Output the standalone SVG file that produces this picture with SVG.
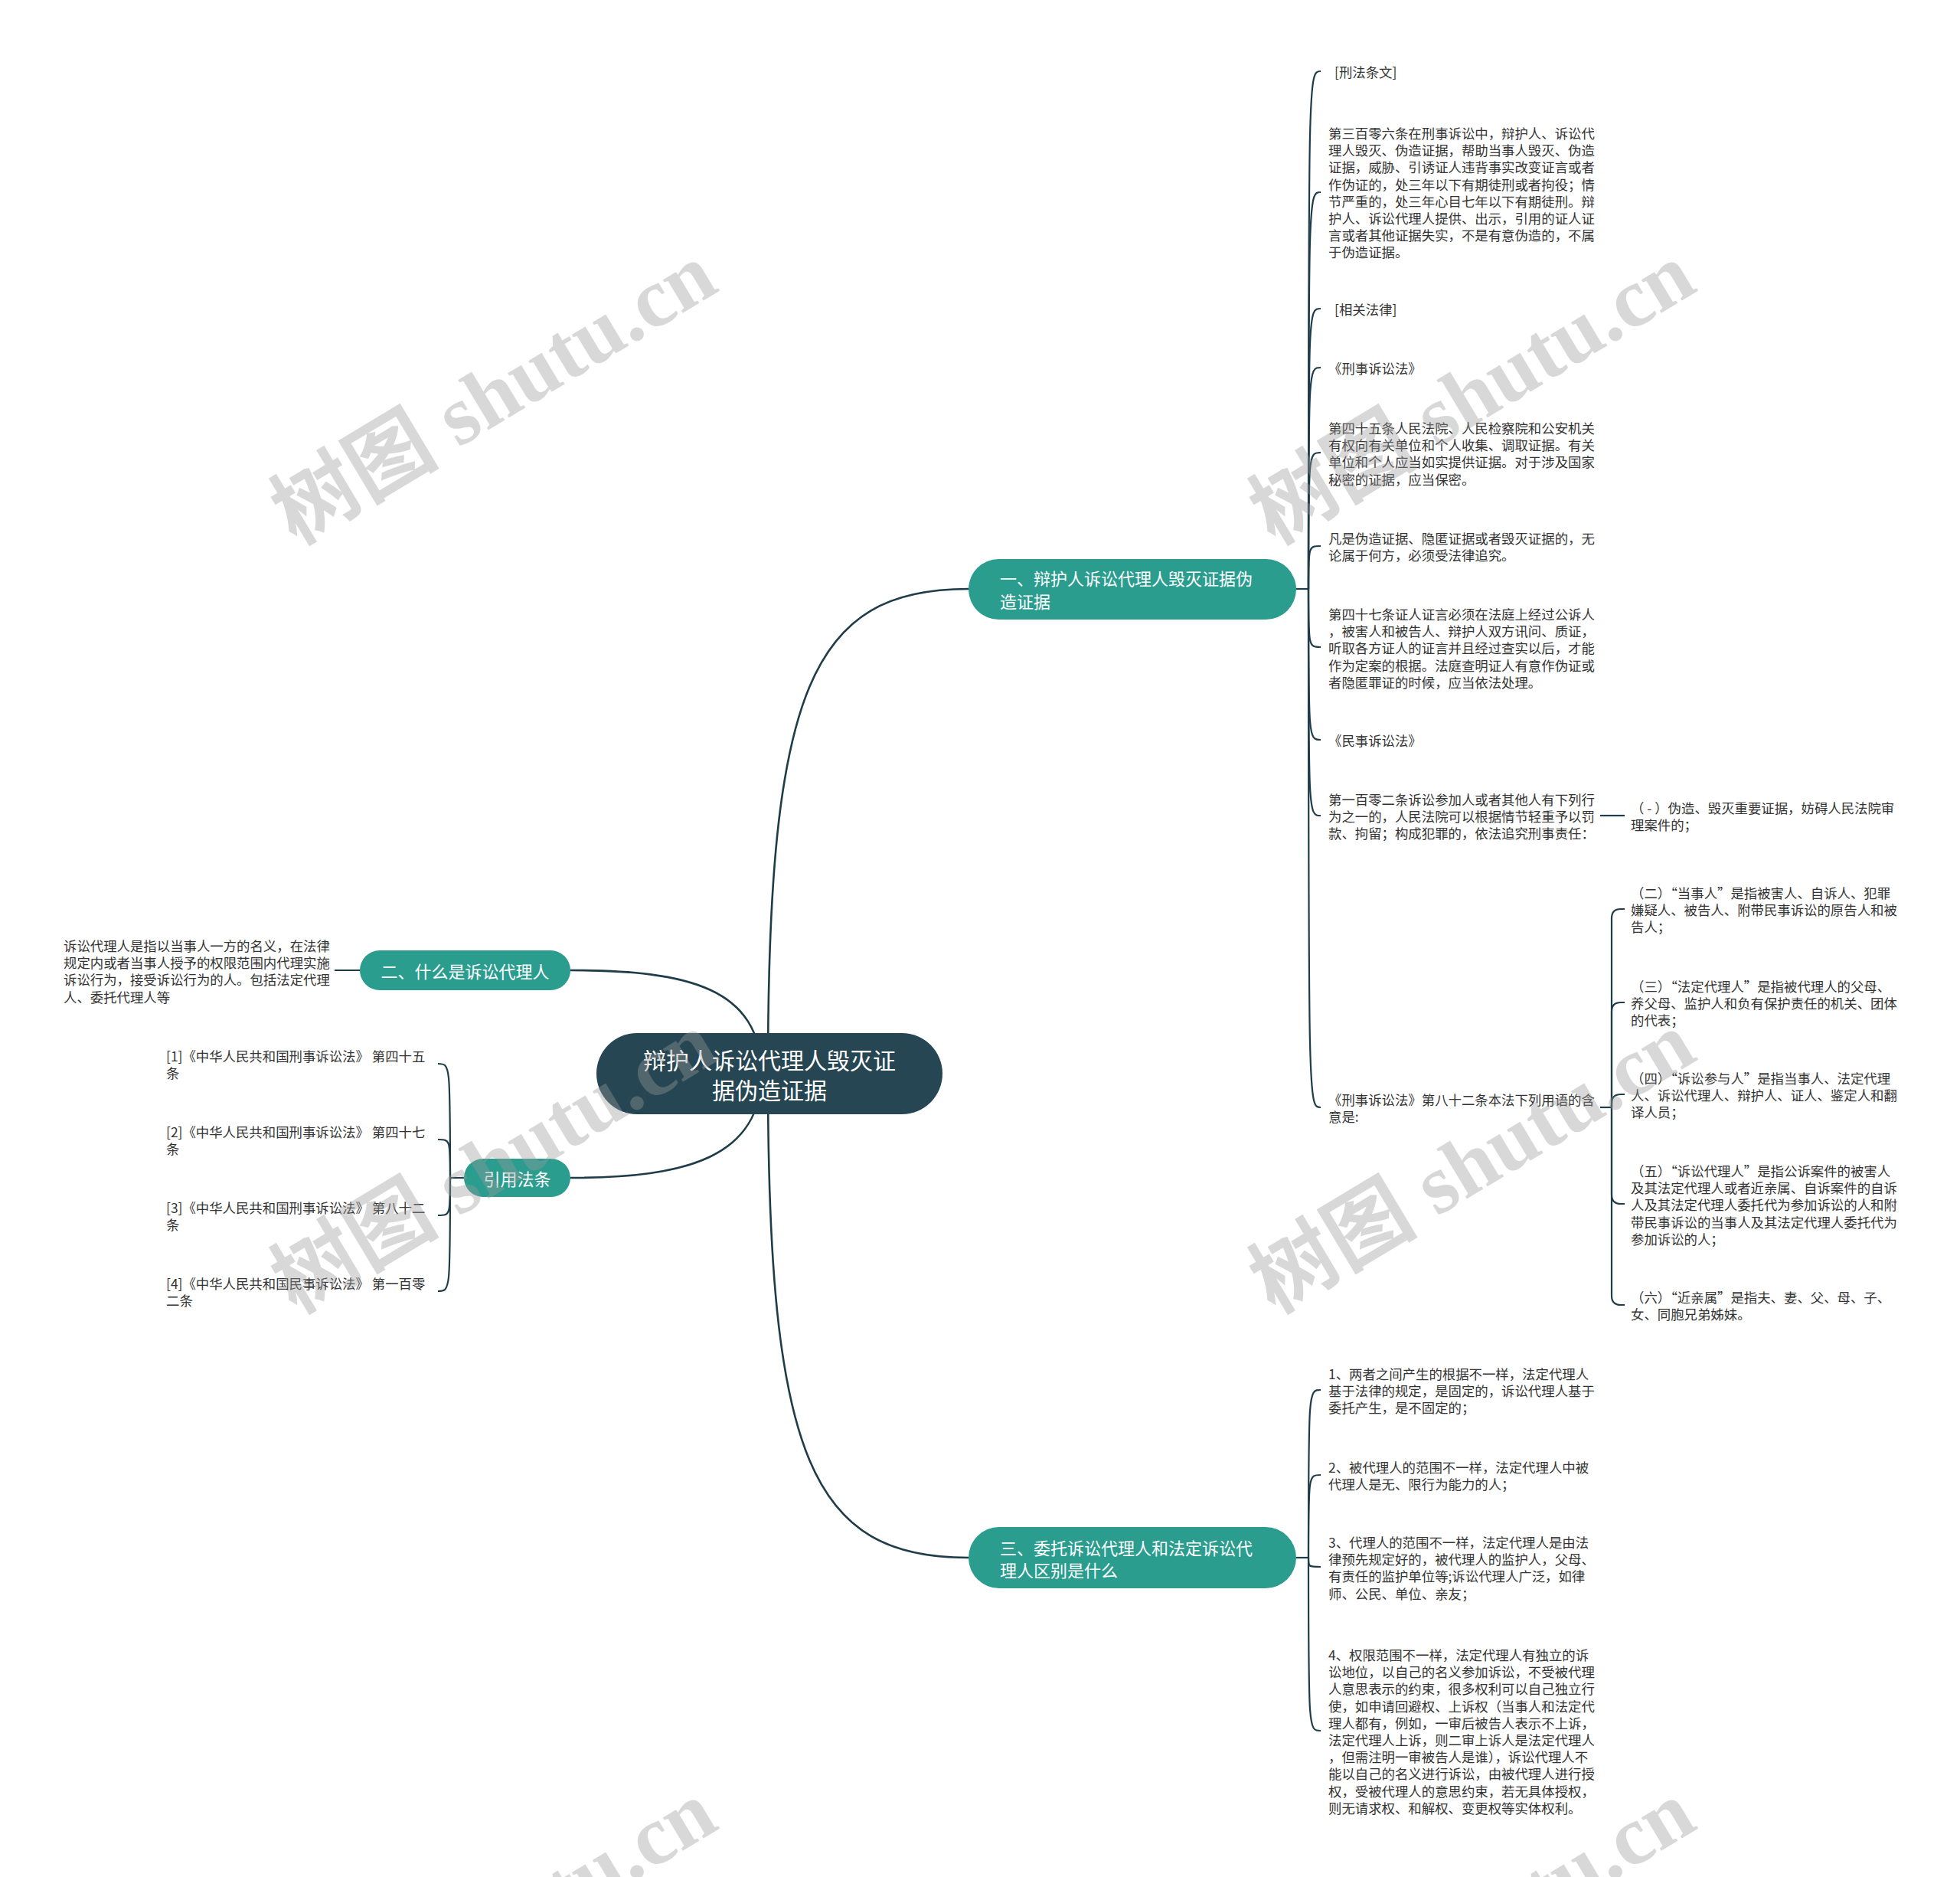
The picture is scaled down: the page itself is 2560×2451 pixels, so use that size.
<svg xmlns="http://www.w3.org/2000/svg" width="2560" height="2451" viewBox="0 0 2560 2451">
<style>
text { font-family: "Noto Sans CJK SC", "Liberation Sans", sans-serif; dominant-baseline: central; }
.it { font-size: 17.4px; fill: #333333; }
.br { font-size: 22px; fill: #ffffff; }
.ctr { font-size: 30px; fill: #ffffff; }
.ln { fill: none; stroke: #1f3d49; stroke-width: 2.2; }
.lm { fill: none; stroke: #1f3d49; stroke-width: 2.6; }
.nb { fill: #2a9d8f; }
.nc { fill: #264653; }
.wm { font-family: "Liberation Serif", "Noto Sans CJK SC", serif; font-size: 110px; font-weight: bold; fill: #9a9a9a; opacity: 0.38; text-anchor: middle; }
</style>
<rect x="0" y="0" width="2560" height="2451" fill="#ffffff"/>
<g id="connectors">
<path class="lm" d="M1003,1402 C1003,900 1060,769 1265,769"/>
<path class="lm" d="M1003,1402 C1003,1904 1060,2034 1265,2034"/>
<path class="lm" d="M745,1267 C900,1267 993,1290 995,1402"/>
<path class="lm" d="M745,1538 C900,1538 993,1510 995,1402"/>
<path class="ln" d="M1693,769 L1709,769"/>
<path class="ln" d="M1709,769 C1709,93 1709,93 1725,93"/>
<path class="ln" d="M1709,769 C1709,251 1709,251 1725,251"/>
<path class="ln" d="M1709,769 C1709,403 1709,403 1725,403"/>
<path class="ln" d="M1709,769 C1709,480 1709,480 1725,480"/>
<path class="ln" d="M1709,769 C1709,591 1709,591 1725,591"/>
<path class="ln" d="M1709,769 C1709,713 1709,713 1725,713"/>
<path class="ln" d="M1709,769 C1709,845 1709,845 1725,845"/>
<path class="ln" d="M1709,769 C1709,966 1709,966 1725,966"/>
<path class="ln" d="M1709,769 C1709,1065 1709,1065 1725,1065"/>
<path class="ln" d="M1709,769 C1709,1446 1709,1446 1725,1446"/>
<path class="ln" d="M2090,1065 L2122,1065"/>
<path class="ln" d="M2090,1446 L2105,1446"/>
<path class="ln" d="M2105,1446 L2105,1199 Q2105,1187 2117,1187 L2122,1187"/>
<path class="ln" d="M2105,1446 L2105,1321 Q2105,1309 2117,1309 L2122,1309"/>
<path class="ln" d="M2105,1446 L2105,1441 Q2105,1429 2117,1429 L2122,1429"/>
<path class="ln" d="M2105,1446 L2105,1560 Q2105,1572 2117,1572 L2122,1572"/>
<path class="ln" d="M2105,1446 L2105,1692 Q2105,1704 2117,1704 L2122,1704"/>
<path class="ln" d="M1693,2034 L1709,2034"/>
<path class="ln" d="M1709,2034 C1709,1815 1709,1815 1725,1815"/>
<path class="ln" d="M1709,2034 C1709,1926 1709,1926 1725,1926"/>
<path class="ln" d="M1709,2034 C1709,2046 1709,2046 1725,2046"/>
<path class="ln" d="M1709,2034 C1709,2260 1709,2260 1725,2260"/>
<path class="ln" d="M470,1267 L437,1267"/>
<path class="ln" d="M606,1538 L588,1538"/>
<path class="ln" d="M588,1538 C588,1389 588,1389 572,1389"/>
<path class="ln" d="M588,1538 C588,1488 588,1488 572,1488"/>
<path class="ln" d="M588,1538 C588,1587 588,1587 572,1587"/>
<path class="ln" d="M588,1538 C588,1686 588,1686 572,1686"/>
</g>
<g id="center">
<rect class="nc" x="779" y="1349" width="452" height="106" rx="53"/>
<text class="ctr" text-anchor="middle"><tspan x="1005" y="1383">辩护人诉讼代理人毁灭证</tspan><tspan x="1005" y="1422">据伪造证据</tspan></text>
</g>
<g id="branch1">
<rect class="nb" x="1265" y="730" width="428" height="79" rx="39.5"/>
<text class="br"><tspan x="1306" y="754">一、辩护人诉讼代理人毁灭证据伪</tspan><tspan x="1306" y="784">造证据</tspan></text>
</g>
<g id="b1-item1"><text class="it" x="1743" y="93">[刑法条文]</text></g>
<g id="b1-item2"><text class="it"><tspan x="1735" y="173">第三百零六条在刑事诉讼中，辩护人、诉讼代</tspan><tspan x="1735" y="195.2">理人毁灭、伪造证据，帮助当事人毁灭、伪造</tspan><tspan x="1735" y="217.4">证据，威胁、引诱证人违背事实改变证言或者</tspan><tspan x="1735" y="239.6">作伪证的，处三年以下有期徒刑或者拘役；情</tspan><tspan x="1735" y="261.8">节严重的，处三年心目七年以下有期徒刑。辩</tspan><tspan x="1735" y="284">护人、诉讼代理人提供、出示，引用的证人证</tspan><tspan x="1735" y="306.2">言或者其他证据失实，不是有意伪造的，不属</tspan><tspan x="1735" y="328.4">于伪造证据。</tspan></text></g>
<g id="b1-item3"><text class="it" x="1743" y="403">[相关法律]</text></g>
<g id="b1-item4"><text class="it" x="1735" y="480">《刑事诉讼法》</text></g>
<g id="b1-item5"><text class="it"><tspan x="1735" y="558">第四十五条人民法院、人民检察院和公安机关</tspan><tspan x="1735" y="580.2">有权向有关单位和个人收集、调取证据。有关</tspan><tspan x="1735" y="602.4">单位和个人应当如实提供证据。对于涉及国家</tspan><tspan x="1735" y="624.6">秘密的证据，应当保密。</tspan></text></g>
<g id="b1-item6"><text class="it"><tspan x="1735" y="702">凡是伪造证据、隐匿证据或者毁灭证据的，无</tspan><tspan x="1735" y="724.2">论属于何方，必须受法律追究。</tspan></text></g>
<g id="b1-item7"><text class="it"><tspan x="1735" y="801">第四十七条证人证言必须在法庭上经过公诉人</tspan><tspan x="1735" y="823.2">，被害人和被告人、辩护人双方讯问、质证，</tspan><tspan x="1735" y="845.4">听取各方证人的证言并且经过查实以后，才能</tspan><tspan x="1735" y="867.6">作为定案的根据。法庭查明证人有意作伪证或</tspan><tspan x="1735" y="889.8">者隐匿罪证的时候，应当依法处理。</tspan></text></g>
<g id="b1-item8"><text class="it" x="1735" y="966">《民事诉讼法》</text></g>
<g id="b1-item9"><text class="it"><tspan x="1735" y="1043">第一百零二条诉讼参加人或者其他人有下列行</tspan><tspan x="1735" y="1065.2">为之一的，人民法院可以根据情节轻重予以罚</tspan><tspan x="1735" y="1087.4">款、拘留；构成犯罪的，依法追究刑事责任：</tspan></text></g>
<g id="b1-item9-c1"><text class="it"><tspan x="2130" y="1054">（ - ）伪造、毁灭重要证据，妨碍人民法院审</tspan><tspan x="2130" y="1076.2">理案件的；</tspan></text></g>
<g id="b1-item10"><text class="it"><tspan x="1735" y="1435">《刑事诉讼法》第八十二条本法下列用语的含</tspan><tspan x="1735" y="1457.2">意是:</tspan></text></g>
<g id="b1-item10-c2"><text class="it"><tspan x="2130" y="1165">（二）“当事人”是指被害人、自诉人、犯罪</tspan><tspan x="2130" y="1187.2">嫌疑人、被告人、附带民事诉讼的原告人和被</tspan><tspan x="2130" y="1209.4">告人；</tspan></text></g>
<g id="b1-item10-c3"><text class="it"><tspan x="2130" y="1287">（三）“法定代理人”是指被代理人的父母、</tspan><tspan x="2130" y="1309.2">养父母、监护人和负有保护责任的机关、团体</tspan><tspan x="2130" y="1331.4">的代表；</tspan></text></g>
<g id="b1-item10-c4"><text class="it"><tspan x="2130" y="1407">（四）“诉讼参与人”是指当事人、法定代理</tspan><tspan x="2130" y="1429.2">人、诉讼代理人、辩护人、证人、鉴定人和翻</tspan><tspan x="2130" y="1451.4">译人员；</tspan></text></g>
<g id="b1-item10-c5"><text class="it"><tspan x="2130" y="1528">（五）“诉讼代理人”是指公诉案件的被害人</tspan><tspan x="2130" y="1550.2">及其法定代理人或者近亲属、自诉案件的自诉</tspan><tspan x="2130" y="1572.4">人及其法定代理人委托代为参加诉讼的人和附</tspan><tspan x="2130" y="1594.6">带民事诉讼的当事人及其法定代理人委托代为</tspan><tspan x="2130" y="1616.8">参加诉讼的人；</tspan></text></g>
<g id="b1-item10-c6"><text class="it"><tspan x="2130" y="1693">（六）“近亲属”是指夫、妻、父、母、子、</tspan><tspan x="2130" y="1715.2">女、同胞兄弟姊妹。</tspan></text></g>
<g id="branch2">
<rect class="nb" x="470" y="1241" width="275" height="52" rx="26"/>
<text class="br" x="607.5" y="1267" text-anchor="middle">二、什么是诉讼代理人</text>
</g>
<g id="b2-item1"><text class="it"><tspan x="83" y="1234">诉讼代理人是指以当事人一方的名义，在法律</tspan><tspan x="83" y="1256.2">规定内或者当事人授予的权限范围内代理实施</tspan><tspan x="83" y="1278.4">诉讼行为，接受诉讼行为的人。包括法定代理</tspan><tspan x="83" y="1300.6">人、委托代理人等</tspan></text></g>
<g id="branch-cite">
<rect class="nb" x="606" y="1513" width="139" height="50" rx="25"/>
<text class="br" x="675.5" y="1538" text-anchor="middle">引用法条</text>
</g>
<g id="cite1"><text class="it"><tspan x="217" y="1378">[1]《中华人民共和国刑事诉讼法》 第四十五</tspan><tspan x="217" y="1400.2">条</tspan></text></g>
<g id="cite2"><text class="it"><tspan x="217" y="1477">[2]《中华人民共和国刑事诉讼法》 第四十七</tspan><tspan x="217" y="1499.2">条</tspan></text></g>
<g id="cite3"><text class="it"><tspan x="217" y="1576">[3]《中华人民共和国刑事诉讼法》 第八十二</tspan><tspan x="217" y="1598.2">条</tspan></text></g>
<g id="cite4"><text class="it"><tspan x="217" y="1675">[4]《中华人民共和国民事诉讼法》 第一百零</tspan><tspan x="217" y="1697.2">二条</tspan></text></g>
<g id="branch3">
<rect class="nb" x="1265" y="1994" width="428" height="80" rx="40"/>
<text class="br"><tspan x="1306" y="2020">三、委托诉讼代理人和法定诉讼代</tspan><tspan x="1306" y="2049">理人区别是什么</tspan></text>
</g>
<g id="b3-item1"><text class="it"><tspan x="1735" y="1793">1、两者之间产生的根据不一样，法定代理人</tspan><tspan x="1735" y="1815.2">基于法律的规定，是固定的，诉讼代理人基于</tspan><tspan x="1735" y="1837.4">委托产生，是不固定的；</tspan></text></g>
<g id="b3-item2"><text class="it"><tspan x="1735" y="1915">2、被代理人的范围不一样，法定代理人中被</tspan><tspan x="1735" y="1937.2">代理人是无、限行为能力的人；</tspan></text></g>
<g id="b3-item3"><text class="it"><tspan x="1735" y="2013">3、代理人的范围不一样，法定代理人是由法</tspan><tspan x="1735" y="2035.2">律预先规定好的，被代理人的监护人，父母、</tspan><tspan x="1735" y="2057.4">有责任的监护单位等;诉讼代理人广泛，如律</tspan><tspan x="1735" y="2079.6">师、公民、单位、亲友；</tspan></text></g>
<g id="b3-item4"><text class="it"><tspan x="1735" y="2160">4、权限范围不一样，法定代理人有独立的诉</tspan><tspan x="1735" y="2182.2">讼地位，以自己的名义参加诉讼，不受被代理</tspan><tspan x="1735" y="2204.4">人意思表示的约束，很多权利可以自己独立行</tspan><tspan x="1735" y="2226.6">使，如申请回避权、上诉权（当事人和法定代</tspan><tspan x="1735" y="2248.8">理人都有，例如，一审后被告人表示不上诉，</tspan><tspan x="1735" y="2271">法定代理人上诉，则二审上诉人是法定代理人</tspan><tspan x="1735" y="2293.2">，但需注明一审被告人是谁），诉讼代理人不</tspan><tspan x="1735" y="2315.4">能以自己的名义进行诉讼，由被代理人进行授</tspan><tspan x="1735" y="2337.6">权，受被代理人的意思约束，若无具体授权，</tspan><tspan x="1735" y="2359.8">则无请求权、和解权、变更权等实体权利。</tspan></text></g>
<g id="watermarks">
<text class="wm" transform="translate(645,514) rotate(-31)">树图 shutu.cn</text>
<text class="wm" transform="translate(1923,514) rotate(-31)">树图 shutu.cn</text>
<text class="wm" transform="translate(645,1518) rotate(-31)">树图 shutu.cn</text>
<text class="wm" transform="translate(1923,1518) rotate(-31)">树图 shutu.cn</text>
<text class="wm" transform="translate(645,2522) rotate(-31)">树图 shutu.cn</text>
<text class="wm" transform="translate(1923,2522) rotate(-31)">树图 shutu.cn</text>
</g>
</svg>
